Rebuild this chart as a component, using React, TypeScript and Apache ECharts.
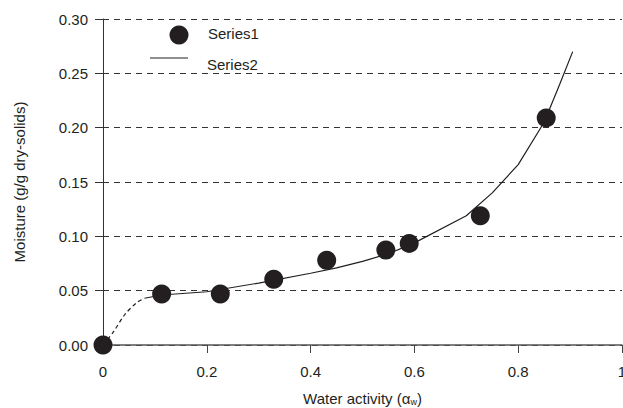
import React, { useEffect, useRef } from "react";
import * as echarts from "echarts";

// Series1: measured points [water activity, moisture]
const series1X = [0, 0.113, 0.226, 0.329, 0.431, 0.545, 0.59, 0.727, 0.854];
const series1Y = [0, 0.047, 0.047, 0.0605, 0.078, 0.0875, 0.0935, 0.119, 0.209];

// Series2: fitted curve (solid part)
const curveX = [0.08, 0.113, 0.2, 0.3, 0.4, 0.45, 0.5, 0.55, 0.6, 0.7, 0.75, 0.8, 0.85, 0.88, 0.905];
const curveY = [0.043, 0.046, 0.049, 0.057, 0.066, 0.071, 0.077, 0.084, 0.094, 0.119, 0.14, 0.166, 0.205, 0.24, 0.27];

// Series2: extrapolated part (dashed)
const dashX = [0, 0.02, 0.042, 0.065, 0.08];
const dashY = [0, 0.012, 0.028, 0.039, 0.043];

const xTicks = [0, 0.2, 0.4, 0.6, 0.8, 1];
const yTicks = [0, 0.05, 0.1, 0.15, 0.2, 0.25, 0.3];

const FONT = "Liberation Sans";
const INK = "#231f20";

export default function App() {
  const ref = useRef<HTMLDivElement>(null);
  useEffect(() => {
    if (!ref.current) return;
    const chart = echarts.init(ref.current, undefined, { renderer: "svg" });
    const zip = (xs: number[], ys: number[]) => xs.map((x, i) => [x, ys[i]]);
    chart.setOption({
      animation: false,
      backgroundColor: "#ffffff",
      textStyle: { fontFamily: FONT },
      grid: {
        left: 103,
        right: 1,
        top: 19,
        bottom: 63,
        containLabel: false,
        outerBoundsMode: "none",
      },
      xAxis: {
        type: "value",
        min: xTicks[0],
        max: xTicks[xTicks.length - 1],
        interval: 0.2,
        name: "Water activity (α{sub|w})",
        nameLocation: "middle",
        nameGap: 45,
        nameTextStyle: {
          fontFamily: FONT,
          fontSize: 15,
          color: INK,
          rich: { sub: { fontSize: 9, fontFamily: FONT, color: INK, padding: [7, 0, 0, 0] } },
        },
        axisLine: { show: true, lineStyle: { color: "#555", width: 1.5 } },
        axisTick: { show: true, length: 8, inside: false, lineStyle: { color: "#444" } },
        axisLabel: { fontSize: 15, color: INK, margin: 19, fontFamily: FONT },
        splitLine: { show: false },
      },
      yAxis: {
        type: "value",
        min: yTicks[0],
        max: yTicks[yTicks.length - 1],
        interval: 0.05,
        name: "Moisture (g/g dry-solids)",
        nameLocation: "middle",
        nameGap: 76,
        nameTextStyle: { fontFamily: FONT, fontSize: 15, color: INK },
        axisLine: { show: true, lineStyle: { color: "#333", width: 1 } },
        axisTick: { show: true, length: 8, inside: false, lineStyle: { color: "#333" } },
        axisLabel: {
          fontSize: 15,
          color: INK,
          margin: 15,
          fontFamily: FONT,
          formatter: (v: number) => v.toFixed(2),
        },
        splitLine: { show: true, lineStyle: { color: "#333", type: [6, 5], width: 1 } },
      },
      graphic: [
        { type: "circle", shape: { cx: 179, cy: 35, r: 9.5 }, style: { fill: INK }, z: 100 },
        {
          type: "text",
          x: 208,
          y: 33,
          style: { text: "Series1", fontSize: 15, fontFamily: FONT, fill: INK, verticalAlign: "middle" },
          z: 100,
        },
        { type: "line", shape: { x1: 150, y1: 58, x2: 188, y2: 58 }, style: { stroke: INK, lineWidth: 1.2 }, z: 100 },
        {
          type: "text",
          x: 207,
          y: 64,
          style: { text: "Series2", fontSize: 15, fontFamily: FONT, fill: INK, verticalAlign: "middle" },
          z: 100,
        },
      ],
      series: [
        {
          name: "Series2",
          type: "line",
          data: zip(curveX, curveY),
          symbol: "none",
          smooth: false,
          lineStyle: { color: INK, width: 1.2 },
          z: 2,
        },
        {
          name: "Series2 (extrapolated)",
          type: "line",
          data: zip(dashX, dashY),
          symbol: "none",
          smooth: 0.3,
          lineStyle: { color: INK, width: 1.2, type: [4, 3] },
          z: 2,
        },
        {
          name: "Series1",
          type: "scatter",
          data: zip(series1X, series1Y),
          symbol: "circle",
          symbolSize: 19,
          itemStyle: { color: INK, opacity: 1 },
          z: 3,
        },
      ],
    });
    return () => chart.dispose();
  }, []);
  return (
    <div
      ref={ref}
      style={{ position: "fixed", left: 0, top: 0, width: 623, height: 408 }}
    />
  );
}
